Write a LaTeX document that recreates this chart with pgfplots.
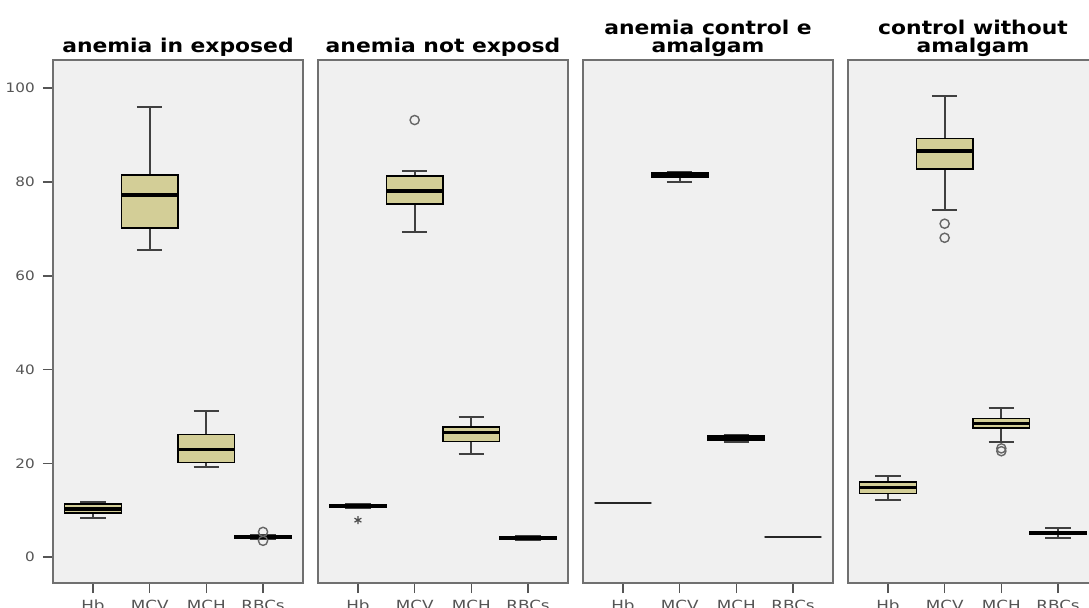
\documentclass[border=0pt]{standalone}
\usepackage{pgfplots}
\pgfplotsset{compat=1.18}
\usepgfplotslibrary{statistics}
\usepackage{fontspec}
\setmainfont{DejaVu Sans}
\setsansfont{DejaVu Sans}
\definecolor{boxfill}{RGB}{211,206,151}
\definecolor{panelbg}{RGB}{240,240,240}
\definecolor{framec}{RGB}{112,112,112}
\definecolor{tickc}{RGB}{85,85,85}
\pgfplotsset{
  panel/.style={
    scale only axis, width=125pt, height=261.5pt,
    anchor=south west,
    xmin=0.295, xmax=4.705, ymin=-5.5, ymax=106,
    axis background/.style={fill=panelbg},
    axis line style={draw=framec, line width=1pt},
    xtick={1,2,3,4}, xticklabels={Hb,MCV,MCH,RBCs},
    xtick pos=bottom, ytick pos=left,
    /pgf/number format/assume math mode=true,
    x tick label style={font=\fontsize{7}{8}\selectfont, text=tickc, xscale=1.2},
    y tick label style={font=\fontsize{6.5}{7}\selectfont, text=tickc, xscale=1.17},
    tick style={draw=tickc, line width=0.8pt},
    tick align=outside, major tick length=5pt,
    every axis title shift=0pt,
    title style={font=\fontsize{9.5}{9}\selectfont\bfseries, align=center, anchor=south, at={(0.5,1)}, inner sep=0pt, yshift=1.5pt, xscale=1.15},
    boxplot/draw direction=y,
    boxplot/box extend=1.0,
    boxplot/whisker extend=0.45,
    boxplot/every box/.style={draw=black, fill=boxfill, line width=0.8pt},
    boxplot/every median/.style={draw=black, line width=1.8pt},
    boxplot/every whisker/.style={draw=black!75, line width=1pt},
    clip=false,
  },
  bx/.style={draw=black, mark=o, mark size=2.3pt, mark options={draw=black!60, line width=0.7pt, fill=none}},
}
\begin{document}
\begin{tikzpicture}
% Panel 1
\begin{axis}[panel, at={(26.5pt,-291.5pt)}, title={anemia in exposed},
  ytick={0,20,40,60,80,100}]
\addplot[bx, boxplot prepared={lower whisker=8.3, lower quartile=9.4, median=10.3, upper quartile=11.3, upper whisker=11.7, draw position=1}] coordinates {};
\addplot[bx, boxplot prepared={lower whisker=65.5, lower quartile=70.2, median=77.2, upper quartile=81.5, upper whisker=96.0, draw position=2}] coordinates {};
\addplot[bx, boxplot prepared={lower whisker=19.2, lower quartile=20.2, median=23.0, upper quartile=26.2, upper whisker=31.1, draw position=3}] coordinates {};
\addplot[bx, boxplot prepared={lower whisker=3.9, lower quartile=4.1, median=4.3, upper quartile=4.5, upper whisker=4.8, draw position=4}] coordinates {(0,5.4) (0,3.5)};
\end{axis}
% Panel 2
\begin{axis}[panel, at={(159pt,-291.5pt)}, title={anemia not exposd},
  ytick=\empty]
\addplot[bx, mark=asterisk, mark size=2pt, mark options={draw=black!70, line width=0.6pt}, boxplot prepared={lower whisker=10.4, lower quartile=10.6, median=10.9, upper quartile=11.2, upper whisker=11.4, draw position=1}] coordinates {(0,7.9)};
\addplot[bx, boxplot prepared={lower whisker=69.4, lower quartile=75.3, median=78.1, upper quartile=81.3, upper whisker=82.3, draw position=2}] coordinates {(0,93.2)};
\addplot[bx, boxplot prepared={lower whisker=21.9, lower quartile=24.7, median=26.6, upper quartile=27.7, upper whisker=29.8, draw position=3}] coordinates {};
\addplot[bx, boxplot prepared={lower whisker=3.6, lower quartile=3.8, median=4.0, upper quartile=4.3, upper whisker=4.5, draw position=4}] coordinates {};
\end{axis}
% Panel 3
\begin{axis}[panel, at={(291.5pt,-291.5pt)}, title={anemia control e\\amalgam},
  ytick=\empty]
\addplot[bx, boxplot/every median/.style={draw=black!85, line width=1.1pt}, boxplot prepared={lower whisker=11.5, lower quartile=11.5, median=11.5, upper quartile=11.5, upper whisker=11.5, draw position=1}] coordinates {};
\addplot[bx, boxplot prepared={lower whisker=80.0, lower quartile=81.0, median=81.5, upper quartile=81.9, upper whisker=82.2, draw position=2}] coordinates {};
\addplot[bx, boxplot prepared={lower whisker=24.5, lower quartile=25.0, median=25.5, upper quartile=25.8, upper whisker=26.0, draw position=3}] coordinates {};
\addplot[bx, boxplot/every median/.style={draw=black!85, line width=1.4pt}, boxplot prepared={lower whisker=4.3, lower quartile=4.3, median=4.3, upper quartile=4.3, upper whisker=4.3, draw position=4}] coordinates {};
\end{axis}
% Panel 4
\begin{axis}[panel, at={(424pt,-291.5pt)}, title={control without\\amalgam},
  ytick=\empty]
\addplot[bx, boxplot prepared={lower whisker=12.3, lower quartile=13.6, median=14.9, upper quartile=16.0, upper whisker=17.4, draw position=1}] coordinates {};
\addplot[bx, boxplot prepared={lower whisker=74.0, lower quartile=82.8, median=86.6, upper quartile=89.3, upper whisker=98.3, draw position=2}] coordinates {(0,71.1) (0,68.1)};
\addplot[bx, boxplot prepared={lower whisker=24.5, lower quartile=27.5, median=28.5, upper quartile=29.6, upper whisker=31.9, draw position=3}] coordinates {(0,23.2) (0,22.6)};
\addplot[bx, boxplot prepared={lower whisker=4.2, lower quartile=4.8, median=5.1, upper quartile=5.5, upper whisker=6.3, draw position=4}] coordinates {};
\end{axis}
\pgfresetboundingbox
\useasboundingbox (0,0) rectangle (544.5pt,-303.5pt);
\end{tikzpicture}
\end{document}
